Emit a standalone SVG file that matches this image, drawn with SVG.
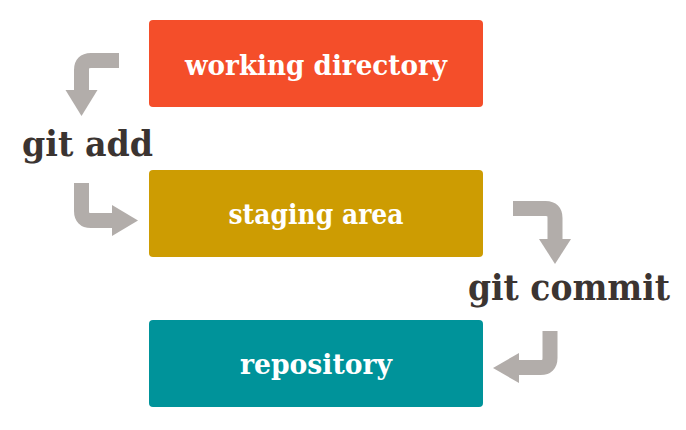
<svg xmlns="http://www.w3.org/2000/svg" width="686" height="430" viewBox="0 0 686 430">
<style>
.box{stroke:none}
.lbl{font-family:"DejaVu Serif","Liberation Serif",serif;font-weight:bold;fill:#ffffff;text-anchor:middle}
.cmd{font-family:"DejaVu Serif","Liberation Serif",serif;font-weight:bold;fill:#3b3431}
.arr{fill:none;stroke:#b2adaa;stroke-width:15}
.head{fill:#b2adaa}
</style>
<rect width="686" height="430" fill="#ffffff"/>
<g id="working-directory">
<rect class="box" x="149" y="20" width="334" height="87" rx="4" fill="#f44e2a"/>
<text class="lbl" x="316" y="75" font-size="27" textLength="262" lengthAdjust="spacingAndGlyphs">working directory</text>
</g>
<g id="staging-area">
<rect class="box" x="149" y="170" width="334" height="87" rx="4" fill="#cd9c02"/>
<text class="lbl" x="316" y="224" font-size="27" textLength="175" lengthAdjust="spacingAndGlyphs">staging area</text>
</g>
<g id="repository">
<rect class="box" x="149" y="320" width="334" height="87" rx="4" fill="#00939a"/>
<text class="lbl" x="316" y="374" font-size="27" textLength="152" lengthAdjust="spacingAndGlyphs">repository</text>
</g>
<g id="git-add">
<text class="cmd" x="22" y="156" font-size="36" textLength="131" lengthAdjust="spacingAndGlyphs">git add</text>
</g>
<g id="git-commit">
<text class="cmd" x="468" y="300" font-size="35" textLength="202" lengthAdjust="spacingAndGlyphs">git commit</text>
</g>
<g id="connectors">
<path class="arr" d="M119,60.5 H91 Q81.5,60.5 81.5,70 V91"/>
<polygon class="head" points="65.5,90 97.5,90 81.5,116"/>
<path class="arr" d="M81.5,183 V211 Q81.5,220.5 91,220.5 H113"/>
<polygon class="head" points="112,205 112,236 138,220.5"/>
<path class="arr" d="M513,208.5 H545.5 Q555,208.5 555,218 V240"/>
<polygon class="head" points="539,239 571,239 555,264"/>
<path class="arr" d="M550,331 V358 Q550,367.5 540.5,367.5 H518"/>
<polygon class="head" points="519,353 519,383 493,368"/>
</g>
</svg>
